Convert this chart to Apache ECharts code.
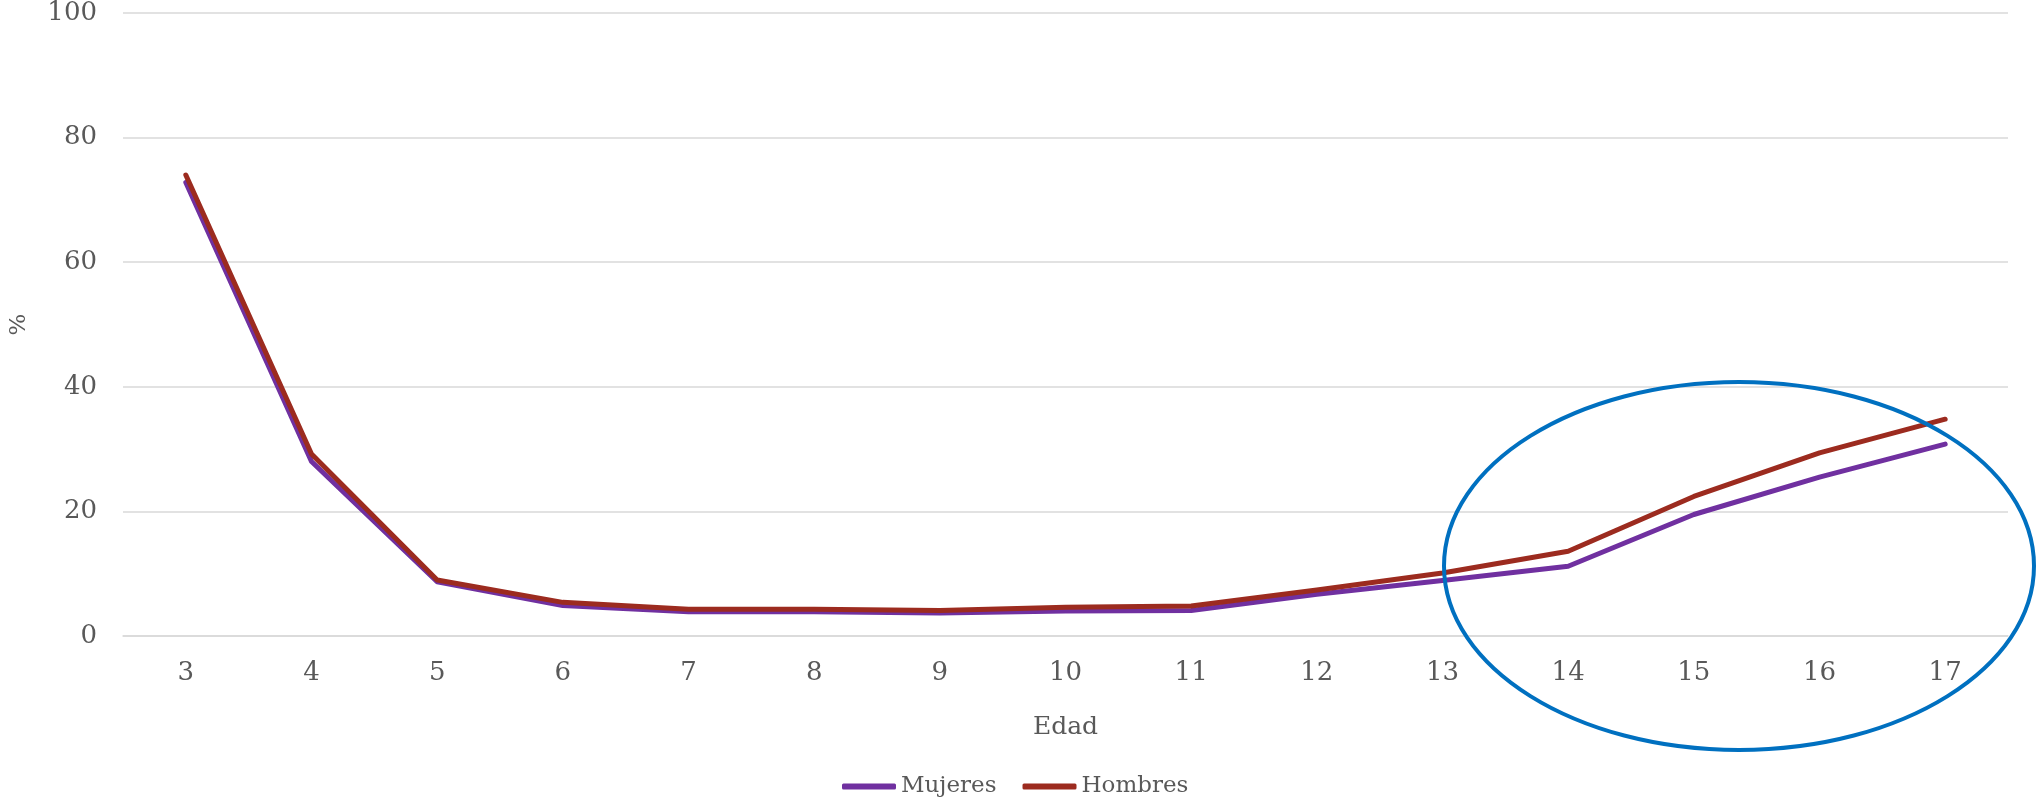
<!DOCTYPE html>
<html><head><meta charset="utf-8">
<script src="https://cdn.jsdelivr.net/npm/echarts@6/dist/echarts.min.js"></script>
<style>html,body{margin:0;padding:0;background:#fff}#c{width:2038px;height:797px}</style>
</head><body><div id="c"></div>
<script>
const categories = ['3','4','5','6','7','8','9','10','11','12','13','14','15','16','17'];
const mujeres = [72.8, 28.0, 8.7, 4.9, 3.9, 3.9, 3.7, 4.0, 4.1, 6.7, 8.9, 11.2, 19.5, 25.5, 30.8];
const hombres = [74.0, 29.2, 9.0, 5.4, 4.3, 4.3, 4.1, 4.6, 4.8, 7.4, 10.1, 13.6, 22.4, 29.4, 34.8];
const yTicks = [0, 20, 40, 60, 80, 100];

const FONT = '"DejaVu Serif", serif';
const TXT = '#595959';
const chart = echarts.init(document.getElementById('c'));
chart.setOption({
  animation: false,
  backgroundColor: '#fff',
  grid: {left: 108, right: 30, top: 13, bottom: 161, containLabel: false},
  legend: {
    show: true, orient: 'horizontal',
    data: ['Mujeres', 'Hombres'],
    left: 837, top: 770,
    itemWidth: 54, itemHeight: 6, itemGap: 26,
    icon: 'roundRect',
    textStyle: {fontFamily: FONT, fontSize: 23, color: TXT}
  },
  xAxis: {
    type: 'category', data: categories, boundaryGap: true,
    name: 'Edad', nameLocation: 'middle', nameGap: 79,
    nameTextStyle: {fontFamily: FONT, fontSize: 25, color: TXT},
    axisLine: {show: true, lineStyle: {color: '#D9D9D9', width: 1.5}},
    axisTick: {show: false},
    axisLabel: {fontFamily: FONT, fontSize: 26, color: TXT, margin: 24}
  },
  yAxis: {
    type: 'value', min: yTicks[0], max: yTicks[yTicks.length-1], interval: 20,
    name: '%', nameLocation: 'middle', nameGap: 92, nameRotate: 90,
    nameTextStyle: {fontFamily: FONT, fontSize: 23, color: TXT},
    axisLine: {show: false}, axisTick: {show: false},
    axisLabel: {fontFamily: FONT, fontSize: 26, color: TXT, margin: 26},
    splitLine: {lineStyle: {color: '#D9D9D9', width: 1.5}}
  },
  series: [
    {name: 'Mujeres', type: 'line', data: mujeres, symbol: 'none',
     lineStyle: {color: '#7030A0', width: 5, cap: 'round', join: 'round'}, itemStyle: {color: '#7030A0'}},
    {name: 'Hombres', type: 'line', data: hombres, symbol: 'none',
     lineStyle: {color: '#9C2B1F', width: 5, cap: 'round', join: 'round'}, itemStyle: {color: '#9C2B1F'}}
  ],
  graphic: [{
    type: 'ellipse',
    shape: {cx: 1739, cy: 566, rx: 295, ry: 184},
    style: {fill: 'none', stroke: '#0070C0', lineWidth: 4},
    z: 100
  }]
});
</script></body></html>
